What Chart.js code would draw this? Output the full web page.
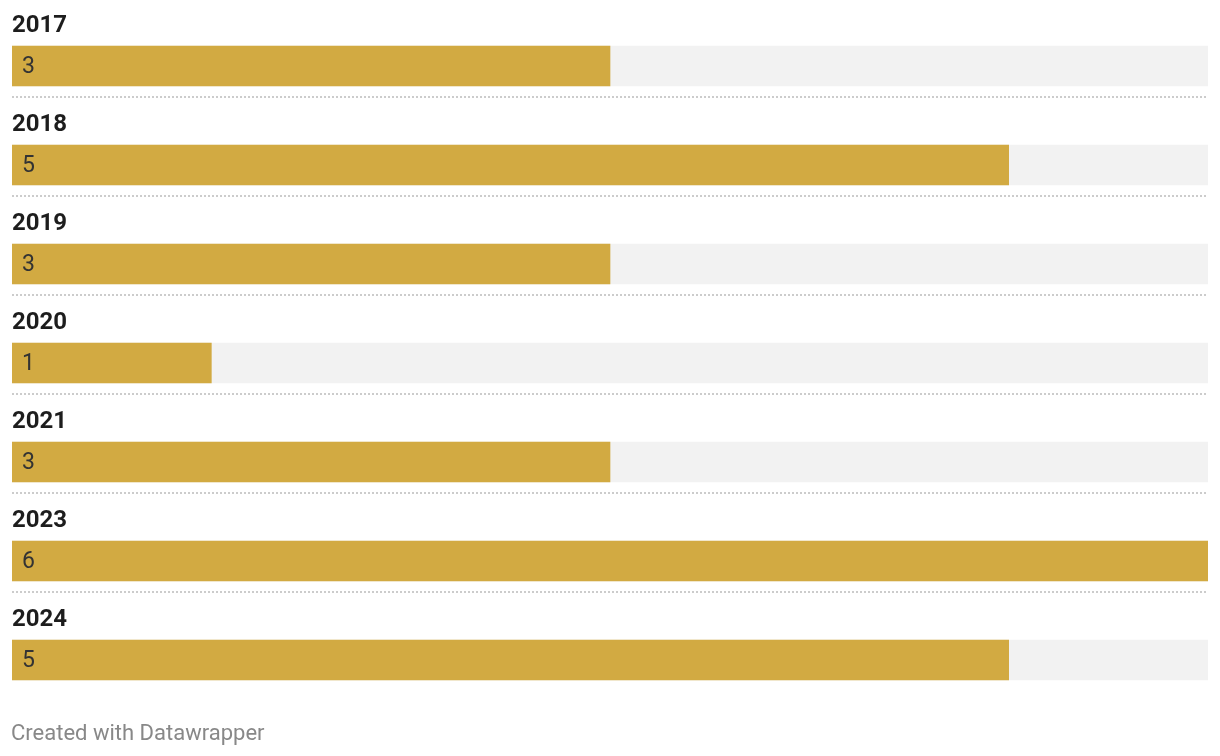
<!DOCTYPE html>
<html>
<head>
<meta charset="utf-8">
<script src="https://cdn.jsdelivr.net/npm/chart.js@4.4.1/dist/chart.umd.min.js"></script>
<style>
  html, body { margin: 0; padding: 0; background: #fff; }
  #wrap { width: 1220px; height: 756px; position: relative; }
</style>
</head>
<body>
<div id="wrap"><canvas id="chart" width="1220" height="756"></canvas></div>
<script>
// data
let years = ['2017', '2018', '2019', '2020', '2021', '2023', '2024'];
let counts = [3, 5, 3, 1, 3, 6, 5];
let xMax = 6;
let footerText = 'Created with Datawrapper';

let barColor = '#d2aa42';
let trackColor = '#f2f2f2';

// labels above the bars, values inside, dotted lines between rows
let rowPlugin = {
    id: 'rowLabels',
    afterDatasetsDraw(chart){
        let ctx = chart.ctx;
        let meta = chart.getDatasetMeta(1);
        let area = chart.chartArea;
        ctx.save();
        meta.data.forEach((bar, i) => {
            let top = bar.y - bar.height / 2;
            let bottom = bar.y + bar.height / 2;
            // year
            ctx.font = 'bold 24px Roboto';
            ctx.fillStyle = '#1d1d1d';
            ctx.textBaseline = 'alphabetic';
            ctx.textAlign = 'left';
            ctx.fillText(years[i], area.left, top - 14);
            // value
            ctx.font = '23px Roboto';
            ctx.fillStyle = '#333333';
            ctx.textBaseline = 'middle';
            ctx.fillText(String(counts[i]), bar.base + 10, bar.y + 1);
            // separator
            if(i < meta.data.length - 1){
                ctx.strokeStyle = '#cccccc';
                ctx.lineWidth = 2;
                ctx.setLineDash([2, 2]);
                ctx.beginPath();
                ctx.moveTo(area.left, bottom + 11);
                ctx.lineTo(area.right, bottom + 11);
                ctx.stroke();
            }
        });
        // footer
        ctx.setLineDash([]);
        ctx.font = '22px Roboto';
        ctx.fillStyle = '#888888';
        ctx.textBaseline = 'alphabetic';
        ctx.fillText(footerText, area.left - 1, 740);
        ctx.restore();
    }
};

new Chart(document.getElementById('chart'), {
    type: 'bar',
    data: {
        labels: years,
        datasets: [
            {
                data: years.map(() => xMax),
                backgroundColor: trackColor,
                grouped: false,
                order: 2,
                barThickness: 40
            },
            {
                data: counts,
                backgroundColor: barColor,
                grouped: false,
                order: 1,
                barThickness: 40
            }
        ]
    },
    options: {
        indexAxis: 'y',
        responsive: false,
        animation: false,
        layout: { padding: { left: 12, right: 12, top: 16.5, bottom: 46.5 } },
        scales: {
            x: { display: false, min: 0, max: xMax },
            y: { display: false }
        },
        plugins: {
            legend: { display: false },
            tooltip: { enabled: false }
        }
    },
    plugins: [rowPlugin]
});
</script>
</body>
</html>
